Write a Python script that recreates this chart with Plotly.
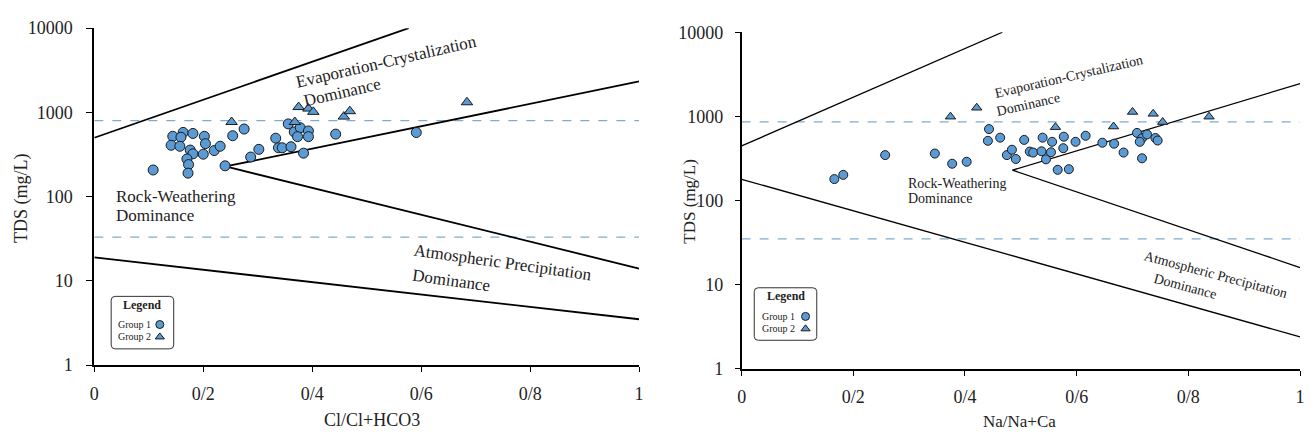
import plotly.graph_objects as go

W, H = 1311, 440
FONT = "Liberation Serif, Times New Roman, serif"
BLUE = "#5B9BD5"

# ---------------- data: left panel (Cl/Cl+HCO3) ----------------
l_g1_x = [0.108, 0.144, 0.141, 0.163, 0.159, 0.157, 0.181, 0.176, 0.181, 0.170, 0.173, 0.172,
          0.202, 0.204, 0.200, 0.220, 0.231, 0.240, 0.254, 0.275, 0.287, 0.302, 0.333, 0.338,
          0.345, 0.361, 0.356, 0.367, 0.378, 0.393, 0.373, 0.393, 0.384, 0.443, 0.591]
l_g1_y = [207, 520, 407, 578, 507, 396, 562, 357, 322, 280, 240, 190,
          520, 425, 319, 352, 396, 232, 528, 634, 295, 364, 494, 380,
          380, 391, 730, 586, 658, 602, 515, 515, 328, 552, 577]
l_g2_x = [0.252, 0.375, 0.393, 0.402, 0.368, 0.458, 0.469, 0.684]
l_g2_y = [769, 1156, 1109, 1014, 769, 891, 1033, 1318]

# ---------------- data: right panel (Na/Na+Ca) ----------------
r_g1_x = [0.166, 0.182, 0.257, 0.346, 0.377, 0.403, 0.443, 0.441, 0.463, 0.475, 0.484, 0.491,
          0.506, 0.516, 0.522, 0.539, 0.537, 0.545, 0.556, 0.554, 0.577, 0.576, 0.566, 0.586,
          0.598, 0.616, 0.646, 0.667, 0.684, 0.708, 0.717, 0.713, 0.726, 0.717, 0.741, 0.745]
r_g1_y = [180, 202, 347, 362, 274, 289, 707, 513, 559, 347, 402, 312,
          526, 382, 372, 559, 385, 309, 499, 375, 574, 419, 232, 236,
          499, 589, 487, 474, 372, 637, 550, 499, 611, 318, 554, 517]
r_g2_x = [0.374, 0.421, 0.562, 0.666, 0.700, 0.737, 0.754, 0.837]
r_g2_y = [993, 1268, 745, 758, 1130, 1073, 857, 993]

# ---------------- Gibbs boundary lines ----------------
l_upper_x, l_upper_y = [0, 0.577], [500, 10000]
l_mid_up_x, l_mid_up_y = [0.241, 1.0], [228, 2330]
l_mid_lo_x, l_mid_lo_y = [0.241, 1.0], [228, 14]
l_bottom_x, l_bottom_y = [0, 1.0], [19, 3.5]

r_upper_x, r_upper_y = [0, 0.467], [446, 10000]
r_mid_up_x, r_mid_up_y = [0.485, 1.0], [230, 2450]
r_mid_lo_x, r_mid_lo_y = [0.485, 1.0], [230, 16]
r_bottom_x, r_bottom_y = [0, 1.0], [179, 2.4]

l_dash_y = [800, 33]
r_dash_y = [860, 35]

x_tickvals = [0, 0.2, 0.4, 0.6, 0.8, 1.0]
x_ticktext = ["0", "0/2", "0/4", "0/6", "0/8", "1"]
y_tickvals = [1, 10, 100, 1000, 10000]
y_ticktext = ["1", "10", "100", "1000", "10000"]

fig = go.Figure()

def add_lines(xs_ys, xa, ya, width):
    for xs, ys in xs_ys:
        fig.add_trace(go.Scatter(x=xs, y=ys, mode="lines", xaxis=xa, yaxis=ya,
                                 line=dict(color="black", width=width),
                                 showlegend=False, hoverinfo="skip"))

def add_dash(vals, xa, ya):
    for v in vals:
        fig.add_trace(go.Scatter(x=[0, 1], y=[v, v], mode="lines", xaxis=xa, yaxis=ya,
                                 line=dict(color="#7FAAD2", width=1.2, dash="dash"),
                                 showlegend=False, hoverinfo="skip"))

add_dash(l_dash_y, "x", "y")
add_dash(r_dash_y, "x2", "y2")
add_lines([(l_upper_x, l_upper_y), (l_mid_up_x, l_mid_up_y), (l_mid_lo_x, l_mid_lo_y),
           (l_bottom_x, l_bottom_y)], "x", "y", 1.8)
add_lines([(r_upper_x, r_upper_y), (r_mid_up_x, r_mid_up_y), (r_mid_lo_x, r_mid_lo_y),
           (r_bottom_x, r_bottom_y)], "x2", "y2", 1.3)

def add_pts(xs, ys, sym, size, xa, ya):
    fig.add_trace(go.Scatter(x=xs, y=ys, mode="markers", xaxis=xa, yaxis=ya,
                             marker=dict(symbol=sym, size=size, color=BLUE,
                                         line=dict(color="#1a1a1a", width=1)),
                             showlegend=False))

add_pts(l_g1_x, l_g1_y, "circle", 10, "x", "y")
add_pts(l_g2_x, l_g2_y, "triangle-up", 10, "x", "y")
add_pts(r_g1_x, r_g1_y, "circle", 9, "x2", "y2")
add_pts(r_g2_x, r_g2_y, "triangle-up", 9, "x2", "y2")

# legend symbols (on an overlay pixel axis)
leg_sym_x = [156, 156, 806.7, 806.7]
leg_sym_y = [329.5, 342.5, 321, 334]
leg_sym = ["circle", "triangle-up", "circle", "triangle-up"]
fig.add_trace(go.Scatter(x=leg_sym_x, y=leg_sym_y, mode="markers", xaxis="x3", yaxis="y3",
                         marker=dict(symbol=leg_sym, size=8, color=BLUE,
                                     line=dict(color="#1a1a1a", width=1)),
                         showlegend=False, hoverinfo="skip"))

def px(x):
    return x / W

def py(y):
    return 1 - y / H

axis_common = dict(showgrid=False, zeroline=False, showline=True, linecolor="black",
                   ticks="outside", tickcolor="black", mirror=False,
                   tickfont=dict(family=FONT, size=18, color="#222"))

fig.update_layout(
    width=W, height=H, margin=dict(l=0, r=0, t=0, b=0),
    paper_bgcolor="white", plot_bgcolor="rgba(0,0,0,0)", showlegend=False,
    font=dict(family=FONT, color="#222"),
    xaxis=dict(domain=[px(90), px(639)], range=[0, 1], tickvals=x_tickvals, ticktext=x_ticktext,
               linewidth=2, ticklen=5, ticklabelstandoff=6, anchor="y", **axis_common),
    yaxis=dict(domain=[py(372), py(19)], type="log", range=[0, 4], tickvals=y_tickvals,
               ticktext=y_ticktext, linewidth=2, ticklen=6, ticklabelstandoff=10, anchor="x",
               **axis_common),
    xaxis2=dict(domain=[px(742.3), px(1305)], range=[0, 1], tickvals=x_tickvals,
                ticktext=x_ticktext, linewidth=1.5, ticklen=5, ticklabelstandoff=6, anchor="y2",
                **axis_common),
    yaxis2=dict(domain=[py(376), py(23.3)], type="log", range=[0, 4], tickvals=y_tickvals,
                ticktext=y_ticktext, linewidth=1.5, ticklen=5, ticklabelstandoff=8, anchor="x2",
                **axis_common),
    xaxis3=dict(domain=[0, 1], range=[0, W], visible=False, anchor="y3", fixedrange=True),
    yaxis3=dict(domain=[0, 1], range=[H, 0], visible=False, anchor="x3", fixedrange=True),
)

ann = []

def text(x, y, s, size, xref="paper", yref="paper", angle=0, xanchor="center", align="center",
         bold=False):
    ann.append(dict(x=x, y=y, xref=xref, yref=yref, text=("<b>%s</b>" % s) if bold else s,
                    showarrow=False, textangle=angle, xanchor=xanchor, yanchor="middle",
                    align=align, font=dict(family=FONT, size=size, color="#222")))

# left panel region labels (data coords: x linear, y = log10)
text(0.537, 3.60, "Evaporation-Crystalization", 17, "x", "y", -13)
text(0.454, 3.24, "Dominance", 17, "x", "y", -13)
text(0.037, 2.0, "Rock-Weathering", 17, "x", "y", 0, "left", "left")
text(0.037, 1.78, "Dominance", 17, "x", "y", 0, "left", "left")
text(0.750, 1.215, "Atmospheric Precipitation", 17, "x", "y", 8)
text(0.655, 1.0, "Dominance", 17, "x", "y", 8)

# right panel region labels
text(0.586, 3.47, "Evaporation-Crystalization", 14, "x2", "y2", -13)
text(0.513, 3.14, "Dominance", 14, "x2", "y2", -13)
text(0.294, 2.2, "Rock-Weathering", 14, "x2", "y2", 0, "left", "left")
text(0.294, 2.03, "Dominance", 14, "x2", "y2", 0, "left", "left")
text(0.848, 1.12, "Atmospheric Precipitation", 14, "x2", "y2", 15)
text(0.795, 0.98, "Dominance", 14, "x2", "y2", 15)

# axis titles
text(px(16), py(197), "TDS (mg/L)", 18, angle=-90)
text(px(370), py(429), "Cl/Cl+HCO3", 18)
text(px(690), py(200), "TDS (mg/L)", 17, angle=-90)
text(px(1022), py(431), "Na/Na+Ca", 17)

# legend texts
text(px(138.5), py(309), "Legend", 12, bold=True)
text(px(112), py(329.5), "Group 1", 10, xanchor="left", align="left")
text(px(112), py(342.5), "Group 2", 10, xanchor="left", align="left")
text(px(786.5), py(300), "Legend", 12, bold=True)
text(px(761), py(321), "Group 1", 10, xanchor="left", align="left")
text(px(761), py(334), "Group 2", 10, xanchor="left", align="left")

fig.update_layout(annotations=ann)

def rounded_box(x0, y0, x1, y1, r=4):
    p = (f"M {px(x0 + r)} {py(y0)} L {px(x1 - r)} {py(y0)} Q {px(x1)} {py(y0)} {px(x1)} {py(y0 + r)} "
         f"L {px(x1)} {py(y1 - r)} Q {px(x1)} {py(y1)} {px(x1 - r)} {py(y1)} "
         f"L {px(x0 + r)} {py(y1)} Q {px(x0)} {py(y1)} {px(x0)} {py(y1 - r)} "
         f"L {px(x0)} {py(y0 + r)} Q {px(x0)} {py(y0)} {px(x0 + r)} {py(y0)} Z")
    return dict(type="path", path=p, xref="paper", yref="paper",
                line=dict(color="#333", width=1), fillcolor="rgba(0,0,0,0)")

fig.update_layout(shapes=[rounded_box(107, 300, 170, 355), rounded_box(755, 291, 818, 346)])

fig.write_html("out.html")
